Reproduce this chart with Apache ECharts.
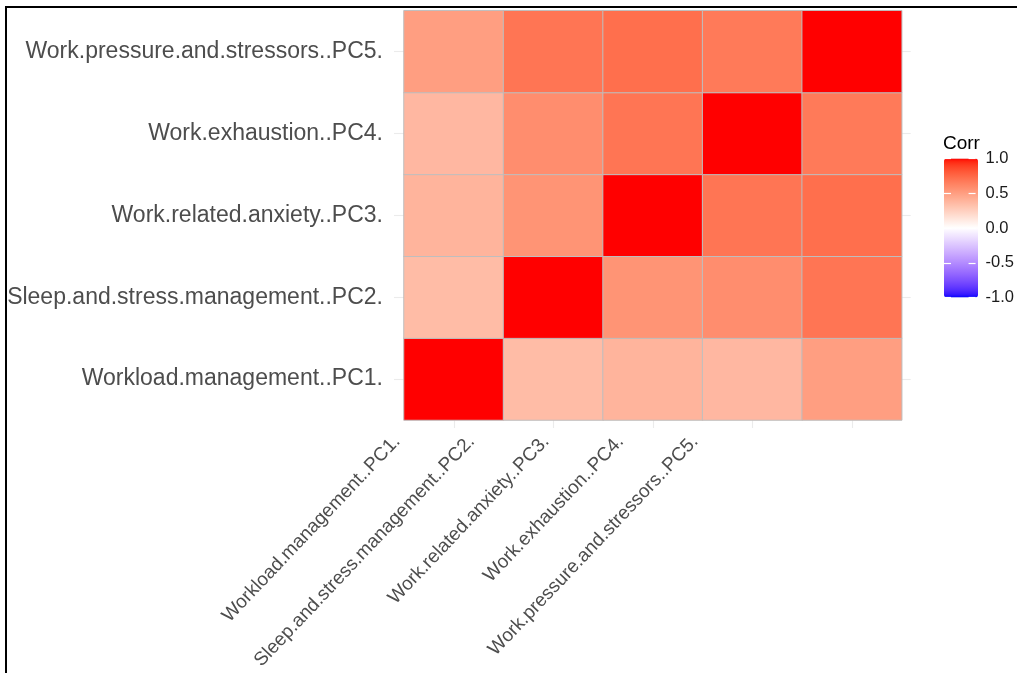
<!DOCTYPE html>
<html>
<head>
<meta charset="utf-8">
<title>Correlation heatmap</title>
<script src="https://cdn.jsdelivr.net/npm/echarts@6/dist/echarts.min.js"></script>
<style>
  html, body { margin: 0; padding: 0; background: #ffffff; }
  #chart { width: 1017px; height: 673px; }
</style>
</head>
<body>
<div id="chart"></div>
<script>
// Component names (bottom-to-top on the y axis, left-to-right on the x axis)
const components = [
  'Workload.management..PC1.',
  'Sleep.and.stress.management..PC2.',
  'Work.related.anxiety..PC3.',
  'Work.exhaustion..PC4.',
  'Work.pressure.and.stressors..PC5.'
];

// Correlation matrix, one row per component
const corrPC1 = [1.00, 0.35, 0.39, 0.37, 0.50];
const corrPC2 = [0.35, 1.00, 0.55, 0.58, 0.69];
const corrPC3 = [0.39, 0.55, 1.00, 0.69, 0.72];
const corrPC4 = [0.37, 0.58, 0.69, 1.00, 0.67];
const corrPC5 = [0.50, 0.69, 0.72, 0.67, 1.00];
const corrRows = [corrPC1, corrPC2, corrPC3, corrPC4, corrPC5];

// Colour bar tick values
const legendTicks = [-1.0, -0.5, 0.0, 0.5, 1.0];

// ---- diverging blue-white-red scale interpolated in CIELAB ----
function toLin(c) { c /= 255; return c <= 0.04045 ? c / 12.92 : Math.pow((c + 0.055) / 1.055, 2.4); }
function fromLin(v) {
  v = v <= 0.0031308 ? 12.92 * v : 1.055 * Math.pow(v, 1 / 2.4) - 0.055;
  return Math.round(Math.min(1, Math.max(0, v)) * 255);
}
function rgbToLab(rgb) {
  const r = toLin(rgb[0]), g = toLin(rgb[1]), b = toLin(rgb[2]);
  const X = (0.4124564 * r + 0.3575761 * g + 0.1804375 * b) / 0.95047;
  const Y = (0.2126729 * r + 0.7151522 * g + 0.0721750 * b);
  const Z = (0.0193339 * r + 0.1191920 * g + 0.9503041 * b) / 1.08883;
  const f = t => t > 0.008856 ? Math.cbrt(t) : 7.787 * t + 16 / 116;
  const fx = f(X), fy = f(Y), fz = f(Z);
  return [116 * fy - 16, 500 * (fx - fy), 200 * (fy - fz)];
}
function labToHex(lab) {
  const fy = (lab[0] + 16) / 116, fx = fy + lab[1] / 500, fz = fy - lab[2] / 200;
  const inv = t => (t * t * t > 0.008856) ? t * t * t : (t - 16 / 116) / 7.787;
  const X = inv(fx) * 0.95047, Y = inv(fy), Z = inv(fz) * 1.08883;
  const r = 3.2404542 * X - 1.5371385 * Y - 0.4985314 * Z;
  const g = -0.9692660 * X + 1.8760108 * Y + 0.0415560 * Z;
  const b = 0.0556434 * X - 0.2040259 * Y + 1.0572252 * Z;
  return '#' + [fromLin(r), fromLin(g), fromLin(b)].map(v => v.toString(16).padStart(2, '0')).join('');
}
const labLow = rgbToLab([0, 0, 255]), labMid = rgbToLab([255, 255, 255]), labHigh = rgbToLab([255, 0, 0]);
function mix(a, b, t) { return [a[0] + (b[0] - a[0]) * t, a[1] + (b[1] - a[1]) * t, a[2] + (b[2] - a[2]) * t]; }
const scaleColors = [];
const STEPS = 60;
for (let i = 0; i <= STEPS; i++) {
  const v = -1 + 2 * i / STEPS;
  scaleColors.push(labToHex(v < 0 ? mix(labLow, labMid, v + 1) : mix(labMid, labHigh, v)));
}

// heatmap cells: [column index, row index, correlation]
const cells = [];
corrRows.forEach((row, yi) => row.forEach((v, xi) => cells.push([xi, yi, v])));

const axisTextColor = '#4d4d4d';
const gridLineColor = '#ebebeb';
const fontFamily = 'Liberation Sans, Arial, sans-serif';

const chart = echarts.init(document.getElementById('chart'), null, { renderer: 'canvas' });
chart.setOption({
  backgroundColor: '#ffffff',
  animation: false,
  title: {
    text: 'Corr', left: 943, top: 134, padding: 0,
    textStyle: { fontFamily: fontFamily, fontSize: 19, fontWeight: 'normal', color: '#000000' }
  },
  grid: [
    { left: 404, top: 10.7, width: 497.7, height: 409.3 },
    { left: 359.75, top: 0, width: 372.5, height: 430 },
    { left: 944, top: 158.5, width: 34, height: 139 }
  ],
  xAxis: [
    {
      gridIndex: 0, type: 'category', data: components, position: 'bottom',
      axisLine: { show: false },
      axisTick: { show: true, alignWithLabel: true, interval: 0, length: 8, lineStyle: { color: gridLineColor, width: 1.1 } },
      axisLabel: { show: false },
      splitLine: { show: false }
    },
    {
      gridIndex: 1, type: 'category', data: components, position: 'bottom',
      axisLine: { show: false }, axisTick: { show: false }, splitLine: { show: false },
      axisLabel: {
        interval: 0, rotate: 46.5, margin: 8.5, color: axisTextColor,
        fontFamily: fontFamily, fontSize: 19
      }
    },
    { gridIndex: 2, type: 'value', show: false, min: 0, max: 1 }
  ],
  yAxis: [
    {
      gridIndex: 0, type: 'category', data: components, position: 'left',
      axisLine: { show: false },
      axisTick: { show: true, alignWithLabel: true, interval: 0, length: 10, lineStyle: { color: gridLineColor, width: 1.1 } },
      axisLabel: {
        interval: 0, margin: 21, color: axisTextColor,
        fontFamily: fontFamily, fontSize: 23, padding: [3, 0, 0, 0]
      },
      splitLine: { show: false }
    },
    {
      gridIndex: 0, type: 'category', data: components, position: 'right',
      axisLine: { show: false },
      axisTick: { show: true, alignWithLabel: true, interval: 0, length: 9, lineStyle: { color: gridLineColor, width: 1.1 } },
      axisLabel: { show: false },
      splitLine: { show: false }
    },
    { gridIndex: 1, type: 'value', show: false },
    {
      gridIndex: 2, type: 'value', position: 'left',
      min: legendTicks[0], max: legendTicks[legendTicks.length - 1], interval: 0.5,
      axisLine: { show: false }, splitLine: { show: false },
      axisTick: { show: true, inside: true, length: 7, lineStyle: { color: '#ffffff', width: 1.2 } },
      axisLabel: { show: false },
      z: 10
    },
    {
      gridIndex: 2, type: 'value', position: 'right',
      min: legendTicks[0], max: legendTicks[legendTicks.length - 1], interval: 0.5,
      axisLine: { show: false }, splitLine: { show: false },
      axisTick: { show: true, inside: true, length: 7, lineStyle: { color: '#ffffff', width: 1.2 } },
      axisLabel: {
        show: true, inside: false, margin: 10, color: '#1a1a1a',
        fontFamily: fontFamily, fontSize: 16.5, padding: [4, 0, 0, 0],
        formatter: v => legendTicks.includes(v) ? v.toFixed(1) : ''
      },
      z: 10
    }
  ],
  visualMap: {
    type: 'continuous', min: -1, max: 1, seriesIndex: 0, dimension: 2,
    left: 944, top: 158.5, itemWidth: 34, itemHeight: 139, padding: 0,
    calculable: false, realtime: false, text: null, showLabel: false,
    inRange: { color: scaleColors },
    hoverLink: false, z: 2
  },
  series: [{
    type: 'heatmap', xAxisIndex: 0, yAxisIndex: 0, data: cells,
    itemStyle: { borderColor: '#bebebe', borderWidth: 1 },
    emphasis: { disabled: true }, label: { show: false }
  }],
  graphic: [
    { type: 'rect', shape: { x: 5, y: 6, width: 1012, height: 2 }, style: { fill: '#000000' }, z: 100 },
    { type: 'rect', shape: { x: 5, y: 6, width: 2, height: 667 }, style: { fill: '#000000' }, z: 100 }
  ]
});
</script>
</body>
</html>
